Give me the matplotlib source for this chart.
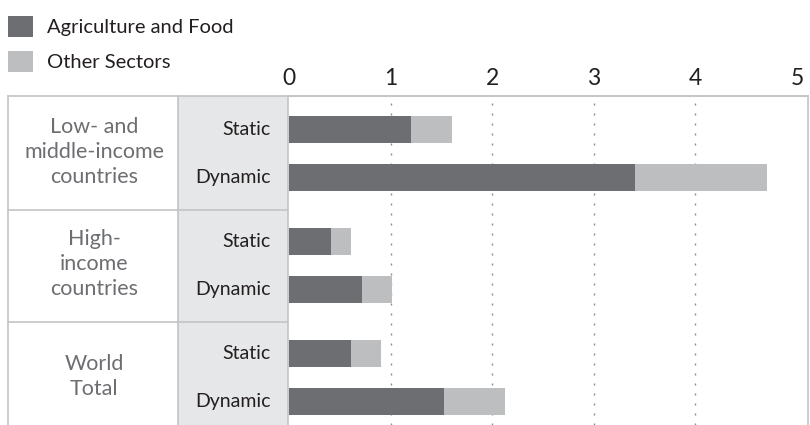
import matplotlib.pyplot as plt
import matplotlib.transforms as mtransforms
from matplotlib.patches import Rectangle
from matplotlib.lines import Line2D
import numpy as np

plt.rcParams['font.family'] = ['Lato', 'DejaVu Sans']

# data
groups = ['Low- and\nmiddle-income\ncountries', 'High-\nincome\ncountries', 'World\nTotal']
scenarios = ['Static', 'Dynamic']
agri = [[1.20, 3.41], [0.41, 0.72], [0.61, 1.53]]
other = [[0.40, 1.29], [0.20, 0.29], [0.30, 0.60]]
xticks = [0, 1, 2, 3, 4, 5]
series_names = ['Agriculture and Food', 'Other Sectors']

c_dark = '#6d6e71'
c_light = '#bcbec0'
c_cell = '#e6e7e8'
c_border = '#c4c4c4'
c_text = '#231f20'

W, H = 810, 425
fig = plt.figure(figsize=(W / 100, H / 100), dpi=100)

# pixel helpers (figure fractions)
def fx(px):
    return px / W

def fy(py):
    return 1 - py / H

top_px, left_px, right_px = 96, 289, 808
ax = fig.add_axes([fx(left_px), 0, fx(right_px) - fx(left_px), fy(top_px)])

step = 112 / 48  # group spacing in row units
bar_h = 0.56
ypos = []
for g in range(len(groups)):
    for s in range(len(scenarios)):
        ypos.append(g * step + s)
ypos = np.array(ypos)
a = np.array(agri).ravel()
o = np.array(other).ravel()

ax.barh(ypos, a, height=bar_h, color=c_dark, zorder=3, label=series_names[0])
ax.barh(ypos, o, left=a, height=bar_h, color=c_light, zorder=3, label=series_names[1])

xmax = (right_px - left_px) / 101.6
ax.set_xlim(0, xmax)
ax.set_ylim((H - 129.5) / 48, (top_px - 129.5) / 48)

for t in xticks[1:-1]:
    ax.axvline(t, color='#8a8a8a', lw=1, linestyle=(0, (1.4, 5.8)), zorder=1)

ax.set_xticks(xticks)
ax.set_xticklabels([str(t) for t in xticks])
ax.xaxis.tick_top()
ax.tick_params(axis='x', length=0, pad=5, labelsize=16.5, labelcolor=c_text)
ax.set_yticks([])
for side in ['left', 'bottom']:
    ax.spines[side].set_visible(False)
for side in ['top', 'right']:
    ax.spines[side].set_color(c_border)
    ax.spines[side].set_linewidth(1.2)

# table on the left
trans = mtransforms.blended_transform_factory(fig.transFigure, ax.transData)
fig.patches.append(Rectangle((fx(178), 0), fx(288) - fx(178), fy(top_px),
                             transform=fig.transFigure, facecolor=c_cell,
                             edgecolor='none', zorder=0))
lines = [
    ([fx(8), fx(right_px)], [fy(top_px), fy(top_px)]),
    ([fx(8), fx(8)], [0, fy(top_px)]),
    ([fx(178), fx(178)], [0, fy(top_px)]),
    ([fx(288), fx(288)], [0, fy(top_px)]),
]
for xs, ys in lines:
    fig.add_artist(Line2D(xs, ys, transform=fig.transFigure, color=c_border, lw=1.2))
for g in range(1, len(groups)):
    yb = g * step - (step - 1) / 2
    fig.add_artist(Line2D([fx(8), fx(288)], [yb, yb], transform=trans,
                          color=c_border, lw=1.2))

for g, name in enumerate(groups):
    fig.text(fx(94), g * step + 0.47, name, transform=trans, ha='center',
             va='center', fontsize=15.5, color=c_dark, linespacing=1.32)
    for s, sc in enumerate(scenarios):
        fig.text(fx(271), g * step + s, sc, transform=trans, ha='right',
                 va='center', fontsize=14, color=c_text)

handles, labels = ax.get_legend_handles_labels()
fig.legend(handles, labels, loc='upper left', bbox_to_anchor=(fx(8), fy(16)),
           frameon=False, fontsize=14.5, handlelength=1.24, handleheight=1.24,
           handletextpad=0.7, labelspacing=0.68, borderpad=0, borderaxespad=0,
           labelcolor=c_text)

fig.savefig('out.png', dpi=100)
